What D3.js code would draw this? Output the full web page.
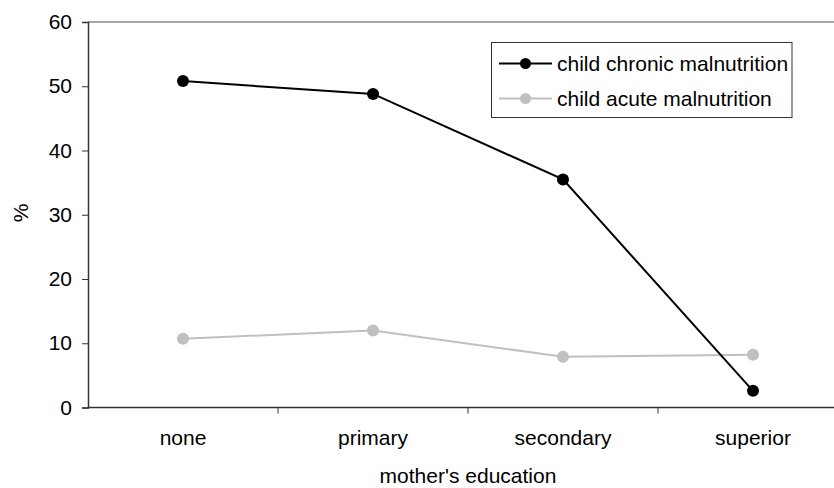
<!DOCTYPE html>
<html>
<head>
<meta charset="utf-8">
<script src="https://cdn.jsdelivr.net/npm/d3@7"></script>
<style>
  body { margin: 0; background: #fff; }
  text { font-family: "Liberation Sans", Arial, sans-serif; fill: #000; }
</style>
</head>
<body>
<svg id="chart" width="834" height="488"></svg>
<script>
const categories = ["none", "primary", "secondary", "superior"];
const chronic = [50.8, 48.8, 35.5, 2.6];
const acute = [10.7, 12.0, 7.9, 8.2];
const yTicks = [0, 10, 20, 30, 40, 50, 60];

const series = [
  { name: "child chronic malnutrition", values: chronic, color: "#000" },
  { name: "child acute malnutrition", values: acute, color: "#c0c0c0" },
];

const FS = 21;
const svg = d3.select("#chart");
const M = { left: 88, right: 848, top: 22, bottom: 407.5 };

const x = d3.scaleBand().domain(categories).range([M.left, M.right]);
const y = d3.scaleLinear().domain([0, 60]).range([M.bottom, M.top]);

// top border line
svg.append("line")
  .attr("x1", M.left).attr("x2", M.right)
  .attr("y1", M.top).attr("y2", M.top)
  .attr("stroke", "#888").attr("stroke-width", 1.5);

// y axis
const yAxis = svg.append("g")
  .attr("transform", `translate(${M.left},0)`)
  .call(d3.axisLeft(y).tickValues(yTicks).tickSize(6).tickPadding(10));
yAxis.select(".domain").attr("stroke", "#333").attr("stroke-width", 1.5);
yAxis.selectAll(".tick line").attr("stroke", "#333");
yAxis.selectAll("text").attr("font-size", FS).attr("font-family", "Liberation Sans, Arial, sans-serif");

// x axis, ticks on category boundaries
const xAxis = svg.append("g")
  .attr("transform", `translate(0,${M.bottom})`);
xAxis.append("line")
  .attr("x1", M.left).attr("x2", M.right)
  .attr("stroke", "#333").attr("stroke-width", 1.5);
xAxis.selectAll(".bt")
  .data(categories.slice(1))
  .enter().append("line")
  .attr("x1", (d) => x(d)).attr("x2", (d) => x(d))
  .attr("y1", 0).attr("y2", 6)
  .attr("stroke", "#333");
xAxis.selectAll(".lbl")
  .data(categories)
  .enter().append("text")
  .attr("x", (d) => x(d) + x.bandwidth() / 2)
  .attr("y", 37)
  .attr("text-anchor", "middle")
  .attr("font-size", FS)
  .text((d) => d);

// axis titles
svg.append("text")
  .attr("transform", "translate(28,213) rotate(-90)")
  .attr("text-anchor", "middle")
  .attr("font-size", FS)
  .text("%");
svg.append("text")
  .attr("x", (M.left + M.right) / 2).attr("y", 483)
  .attr("text-anchor", "middle")
  .attr("font-size", FS)
  .text("mother's education");

// lines and markers
const line = d3.line()
  .x((d, i) => x(categories[i]) + x.bandwidth() / 2)
  .y((d) => y(d));

series.slice().reverse().forEach((s) => {
  const g = svg.append("g");
  g.append("path")
    .attr("d", line(s.values))
    .attr("fill", "none")
    .attr("stroke", s.color)
    .attr("stroke-width", 2);
  g.selectAll("circle")
    .data(s.values)
    .enter().append("circle")
    .attr("cx", (d, i) => x(categories[i]) + x.bandwidth() / 2)
    .attr("cy", (d) => y(d))
    .attr("r", 6)
    .attr("fill", s.color);
});

// legend
const legend = svg.append("g");
legend.append("rect")
  .attr("x", 491.5).attr("y", 42.5)
  .attr("width", 300.5).attr("height", 75)
  .attr("fill", "#fff").attr("stroke", "#333").attr("stroke-width", 1);
series.forEach((s, i) => {
  const ly = 63.5 + i * 35;
  legend.append("line")
    .attr("x1", 499).attr("x2", 552)
    .attr("y1", ly).attr("y2", ly)
    .attr("stroke", s.color).attr("stroke-width", 2);
  legend.append("circle")
    .attr("cx", 525.5).attr("cy", ly).attr("r", 5.5)
    .attr("fill", s.color);
  legend.append("text")
    .attr("x", 557).attr("y", ly + 7.5)
    .attr("font-size", FS)
    .text(s.name);
});
</script>
</body>
</html>
